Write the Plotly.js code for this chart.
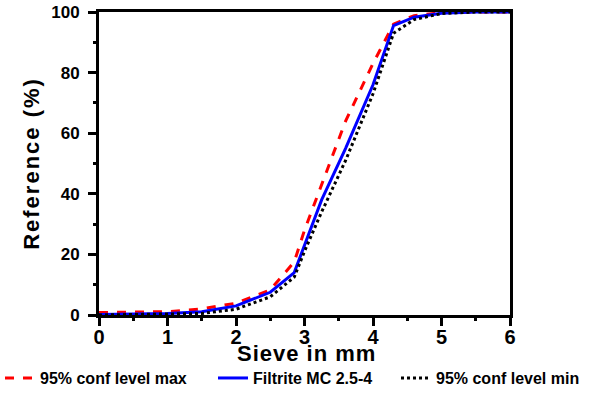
<!DOCTYPE html>
<html><head><meta charset="utf-8">
<script src="https://cdn.plot.ly/plotly-3.0.1.min.js"></script>
<style>
body{margin:0}#c{width:600px;height:393px}
text.ytitle{letter-spacing:2px}
text.annotation-text{letter-spacing:1px}
</style>
</head><body><div id="c"></div>
<script>
const sieve = [0, 0.5, 1, 1.5, 2, 2.5, 2.85, 3.0, 3.25, 3.6, 4.0, 4.3, 4.6, 5.0, 5.5, 6.0];
const confMax = [0.8, 1.0, 1.1, 2.0, 3.9, 8.3, 17.5, 28, 43, 64, 83, 96, 98.8, 99.8, 100, 100];
const filtrite = [0.2, 0.3, 0.5, 1.1, 3.0, 7.5, 14, 23, 38, 55, 76, 95.5, 98.3, 99.6, 100, 100];
const confMin = [0, 0.1, 0.2, 0.5, 1.9, 6.0, 12.5, 21, 34, 51, 73, 93, 97.5, 99.5, 100, 100];
const xTicks = [0, 1, 2, 3, 4, 5, 6];
const yTicks = [0, 20, 40, 60, 80, 100];
const xTitle = "Sieve in mm";
const yTitle = "Reference (%)";

const F = "Liberation Sans, Arial, sans-serif";
const traces = [
  {x: sieve, y: confMax, name: "95% conf level max", mode: "lines", legend: "legend", line: {color: "#ff0000", width: 3, dash: "dash"}},
  {x: sieve, y: filtrite, name: "Filtrite MC 2.5-4", mode: "lines", legend: "legend2", line: {color: "#0000ff", width: 3}},
  {x: sieve, y: confMin, name: "95% conf level min", mode: "lines", legend: "legend3", line: {color: "#000000", width: 3, dash: "dot"}}
];
const axBase = {
  showline: true, linecolor: "#000", linewidth: 3, mirror: true, showgrid: false, zeroline: false,
  ticks: "outside", ticklen: 8, tickwidth: 3, tickcolor: "#000"
};
function leg(x) {
  return {orientation: "h", xref: "container", yref: "container", x: x, xanchor: "left",
    y: 0.038, yanchor: "middle", itemwidth: 30, bgcolor: "rgba(0,0,0,0)",
    font: {family: F, size: 16, color: "#000", weight: "bold"}};
}
const layout = {
  width: 600, height: 393,
  margin: {l: 99, r: 90, t: 12, b: 78},
  paper_bgcolor: "#fff", plot_bgcolor: "#fff",
  showlegend: true,
  xaxis: Object.assign({}, axBase, {range: [0, 6], tickvals: xTicks, ticktext: xTicks.map(String),
    automargin: false, ticklabelstandoff: -6,
    tickfont: {family: F, size: 20, color: "#000", weight: "bold"},
    minor: {ticks: "outside", dtick: 0.5, ticklen: 3, tickwidth: 3, tickcolor: "#000"}}),
  yaxis: Object.assign({}, axBase, {range: [0, 100], tickvals: yTicks, ticktext: yTicks.map(String),
    automargin: "left",
    tickfont: {family: F, size: 17, color: "#000", weight: "bold"}, ticklabelstandoff: 5,
    minor: {ticks: "outside", dtick: 10, ticklen: 3, tickwidth: 3, tickcolor: "#000"},
    title: {text: "<b>" + yTitle + "</b>", standoff: 6, font: {family: F, size: 22, color: "#000"}}}),
  annotations: [{text: "<b>" + xTitle + "</b>", xref: "paper", yref: "paper", x: 0.505, y: -0.128,
    xanchor: "center", yanchor: "middle", showarrow: false, font: {family: F, size: 22, color: "#000"}}],
  legend: leg(0),
  legend2: leg(0.355),
  legend3: leg(0.66)
};
Plotly.newPlot("c", traces, layout, {displayModeBar: false, staticPlot: true});
</script></body></html>
